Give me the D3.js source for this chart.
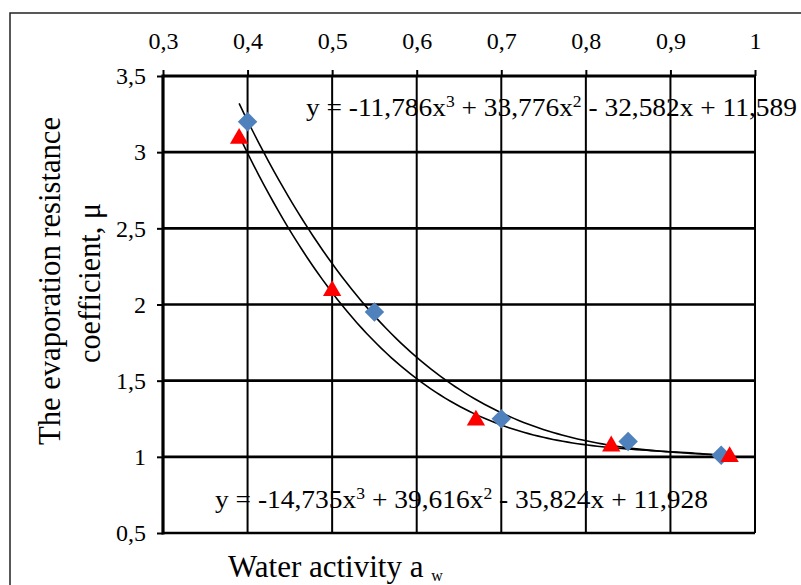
<!DOCTYPE html>
<html>
<head>
<meta charset="utf-8">
<script src="https://cdn.jsdelivr.net/npm/d3@7"></script>
<style>
  body { margin: 0; background: #fff; }
  svg { display: block; }
  text { font-family: "Liberation Serif", "Times New Roman", serif; fill: #000; }
</style>
</head>
<body>
<svg id="chart" width="801" height="585"></svg>
<script>
// series 1 (blue diamonds)
var seriesAX = [0.40, 0.55, 0.70, 0.85, 0.96]
var seriesAY = [3.20, 1.95, 1.25, 1.10, 1.01]
// series 2 (red triangles)
var seriesBX = [0.39, 0.50, 0.67, 0.83, 0.97]
var seriesBY = [3.09, 2.09, 1.24, 1.07, 1.00]
// trendline coefficients as printed on the chart (x^3, x^2, x, const)
var trendA = [-11.786, 33.776, -32.582, 11.589]
var trendB = [-14.735, 39.616, -35.824, 11.928]
var trendRange = [0.39, 0.97]
var xTicks = [0.3, 0.4, 0.5, 0.6, 0.7, 0.8, 0.9, 1]
var yTicks = [0.5, 1, 1.5, 2, 2.5, 3, 3.5]

var svg = d3.select("#chart")
var dims = { left: 163, right: 755, top: 76, bottom: 533 }

var ru = d3.formatLocale({ decimal: ",", thousands: " ", grouping: [3], currency: ["", ""] })
var fmt = function(v) { return ru.format("~g")(v) }

var xScale = d3.scaleLinear().domain([0.3, 1]).range([dims.left, dims.right])
var yScale = d3.scaleLinear().domain([0.5, 3.5]).range([dims.bottom, dims.top])

// outer frame
svg.append("rect")
   .attr("x", 10).attr("y", 13)
   .attr("width", 800).attr("height", 600)
   .attr("fill", "none").attr("stroke", "#222").attr("stroke-width", 1.5)

// grid
svg.append("g").selectAll("line")
   .data(xTicks.slice(1))
   .enter().append("line")
   .attr("x1", d => xScale(d)).attr("x2", d => xScale(d))
   .attr("y1", dims.top).attr("y2", dims.bottom)
   .attr("stroke", "#000").attr("stroke-width", 2)
svg.append("g").selectAll("line")
   .data(yTicks)
   .enter().append("line")
   .attr("x1", dims.left).attr("x2", dims.right)
   .attr("y1", d => yScale(d)).attr("y2", d => yScale(d))
   .attr("stroke", "#000").attr("stroke-width", d => d === 3.5 ? 3.2 : 2.6)

// axes
var xAxis = svg.append("g")
   .attr("transform", `translate(0,${dims.top})`)
   .call(d3.axisTop(xScale).tickValues(xTicks).tickFormat(fmt).tickSize(6).tickPadding(21))
var yAxis = svg.append("g")
   .attr("transform", `translate(${dims.left},0)`)
   .call(d3.axisLeft(yScale).tickValues(yTicks).tickFormat(fmt).tickSize(6).tickPadding(11))
xAxis.select(".domain").remove()
yAxis.select(".domain").remove()
svg.selectAll(".tick line").attr("stroke", "#000").attr("stroke-width", 2)
svg.selectAll(".tick text").attr("font-size", 24)
   .attr("font-family", "Liberation Serif, Times New Roman, serif")
svg.append("line")
   .attr("x1", dims.left).attr("x2", dims.left)
   .attr("y1", dims.top - 1.5).attr("y2", dims.bottom + 1.5)
   .attr("stroke", "#000").attr("stroke-width", 3.2)

// trendlines
function poly(c, x) { return c[0]*x*x*x + c[1]*x*x + c[2]*x + c[3] }
var line = d3.line().x(d => xScale(d[0])).y(d => yScale(d[1]))
var steps = d3.range(0, 101).map(i => trendRange[0] + (trendRange[1] - trendRange[0]) * i / 100)
;[trendA, trendB].forEach(c => {
    svg.append("path")
       .datum(steps.map(x => [x, poly(c, x)]))
       .attr("d", line)
       .attr("fill", "none").attr("stroke", "#000").attr("stroke-width", 1.6)
})

// markers
var pointsA = seriesAX.map((x, i) => [x, seriesAY[i]])
var pointsB = seriesBX.map((x, i) => [x, seriesBY[i]])
svg.append("g").selectAll("path")
   .data(pointsA)
   .enter().append("path")
   .attr("d", d3.symbol().type(d3.symbolSquare).size(190))
   .attr("transform", d => `translate(${xScale(d[0])},${yScale(d[1])}) rotate(45)`)
   .attr("fill", "#4F81BD")
svg.append("g").selectAll("path")
   .data(pointsB)
   .enter().append("path")
   .attr("d", d3.symbol().type(d3.symbolTriangle).size(145))
   .attr("transform", d => `translate(${xScale(d[0])},${yScale(d[1])})`)
   .attr("fill", "#FF0000")

// equation labels
function eqLabel(x, y, c, w) {
    var t = svg.append("text").attr("x", x).attr("y", y).attr("font-size", 25)
    var n = v => ru.format(".3f")(Math.abs(v))
    t.append("tspan").text(`y = ${c[0] < 0 ? "-" : ""}${n(c[0])}x`)
    t.append("tspan").attr("dy", -9).attr("font-size", 16).text("3")
    t.append("tspan").attr("dy", 9).text(` ${c[1] < 0 ? "-" : "+"} ${n(c[1])}x`)
    t.append("tspan").attr("dy", -9).attr("font-size", 16).text("2")
    t.append("tspan").attr("dy", 9).text(` ${c[2] < 0 ? "-" : "+"} ${n(c[2])}x ${c[3] < 0 ? "-" : "+"} ${n(c[3])}`)
    // stretch to the width it takes in the original
    var len = t.node().getComputedTextLength()
    t.attr("transform", `translate(${x},0) scale(${w / len},1) translate(${-x},0)`)
}
eqLabel(306, 116, trendA, 491)
eqLabel(215, 508, trendB, 493)

// axis titles
var yTitle = svg.append("g").attr("transform", "translate(0,281) rotate(-90)")
yTitle.append("text").attr("x", 0).attr("y", 60)
   .attr("text-anchor", "middle").attr("font-size", 31)
   .attr("textLength", 328).attr("lengthAdjust", "spacingAndGlyphs")
   .text("The evaporation resistance")
yTitle.append("text").attr("x", -2).attr("y", 100)
   .attr("text-anchor", "middle").attr("font-size", 31)
   .attr("textLength", 160).attr("lengthAdjust", "spacingAndGlyphs")
   .text("coefficient, μ")

var xTitle = svg.append("text")
   .attr("x", 228).attr("y", 577)
   .attr("font-size", 31)
xTitle.append("tspan").text("Water activity a ")
xTitle.append("tspan").attr("dy", 4).attr("font-size", 16).text("w")
</script>
</body>
</html>
